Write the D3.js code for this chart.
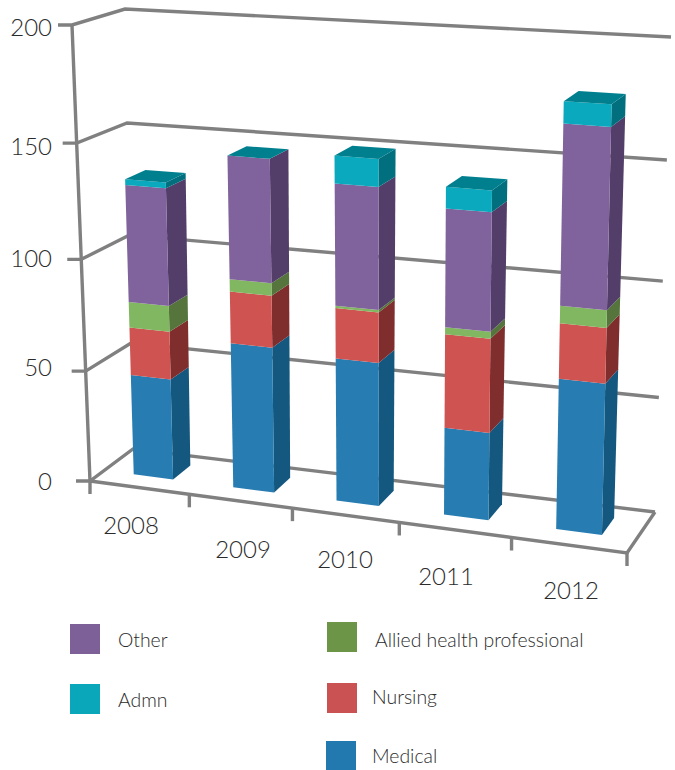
<!DOCTYPE html>
<html>
<head>
<meta charset="utf-8">
<script src="https://cdn.jsdelivr.net/npm/d3@7"></script>
<style>
  html, body { margin: 0; padding: 0; background: #fff; }
  text { font-family: Lato, "Open Sans", sans-serif; font-weight: 300; fill: #2b2b2b; }
</style>
</head>
<body>
<div id="chart"></div>
<script>
var years = ['2008', '2009', '2010', '2011', '2012'];
var yTicks = [0, 50, 100, 150, 200];

// stack order, bottom to top
var medical = [45.5, 64.7, 63, 38, 64.5];
var nursing = [21.5, 23, 22, 40.5, 23.5];
var allied = [11.5, 5.5, 1, 3, 7.5];
var other = [51.5, 53, 52, 49.8, 74];
var admn = [2.5, 0, 11.7, 9, 9];

var legendNames = ['Other', 'Admn', 'Allied health professional', 'Nursing', 'Medical'];

var config = {
    w: 675,
    h: 770,
    grid: '#808080',
    // corners of the 3d box on the page
    box: {
        flb: [90, 481], frb: [627, 553], blb: [133, 449], brb: [655, 512],
        flt: [72, 25], frt: [638, 60], blt: [125, 9], brt: [671, 37]
    },
    barFrom: 0.3, barTo: 0.7,
    zFront: 0.33, zBack: 0.75,
    colors: {
        Medical: { front: '#277cb2', side: '#14577f', top: '#14577f' },
        Nursing: { front: '#cf5451', side: '#802d2d', top: '#802d2d' },
        Allied: { front: '#82b762', side: '#55753c', top: '#55753c' },
        Other: { front: '#80639c', side: '#523e69', top: '#523e69' },
        Admn: { front: '#0aa9bd', side: '#016f7d', top: '#00808f' }
    },
    catLabels: [[131, 534], [243, 558], [345, 568], [446, 585], [571, 599]],
    valLabelY: [490, 376, 267, 155, 36],
    legend: {
        Other: { box: [70, 624], text: [118, 647], color: '#7d6098' },
        Admn: { box: [70, 684], text: [118, 707], color: '#0aa6ba' },
        'Allied health professional': { box: [327, 622], text: [375, 647], color: '#6c9547' },
        Nursing: { box: [327, 683], text: [372, 704], color: '#cb5252' },
        Medical: { box: [326, 741], text: [372, 763], color: '#2279b0' }
    }
};

var c = config;

// axes run faster towards the viewer, so both scales are piecewise
var xScale = d3.scaleLinear().domain([0, 1, 2, 3, 4, 5]).range([0, 0.185, 0.377, 0.576, 0.785, 1]);
var yScale = d3.scaleLinear().domain(yTicks).range([0, 0.241, 0.486, 0.741, 1]);

function mix(a, b, t) {
    return [a[0] + (b[0] - a[0]) * t, a[1] + (b[1] - a[1]) * t];
}

// category position, value, depth (0 front, 1 back) -> page point
function project(x, val, z) {
    var u = xScale(x), v = yScale(val), b = c.box;
    var bottom = mix(mix(b.flb, b.frb, u), mix(b.blb, b.brb, u), z);
    var top = mix(mix(b.flt, b.frt, u), mix(b.blt, b.brt, u), z);
    return mix(bottom, top, v);
}

var svg = d3.select('#chart').append('svg')
    .attr('width', c.w)
    .attr('height', c.h)
    .style('display', 'block');

var line = d3.line();
var g = svg.append('g');

// back wall and left wall lines
yTicks.forEach(function(t, i) {
    var p0 = project(0, t, 0);
    g.append('path')
        .attr('d', line([[p0[0] - 14, p0[1]], p0, project(0, t, 1), project(5, t, 1)]))
        .attr('fill', 'none')
        .attr('stroke', c.grid)
        .attr('stroke-width', 3.4);
    g.append('text')
        .text(t)
        .attr('x', 52)
        .attr('y', c.valLabelY[i])
        .attr('text-anchor', 'end')
        .style('font-size', '24px');
});

// vertical axis
g.append('path')
    .attr('d', line([project(0, 0, 0), project(0, 200, 0)]))
    .attr('fill', 'none')
    .attr('stroke', c.grid)
    .attr('stroke-width', 3.4);

// floor front edge and right edge
g.append('path')
    .attr('d', line([project(0, 0, 0), project(5, 0, 0), project(5, 0, 1)]))
    .attr('fill', 'none')
    .attr('stroke', c.grid)
    .attr('stroke-width', 3.4);

d3.range(6).forEach(function(i) {
    var p = project(i, 0, 0);
    g.append('path')
        .attr('d', line([p, [p[0], p[1] + 13]]))
        .attr('stroke', c.grid)
        .attr('stroke-width', 3.4);
});

years.forEach(function(year, i) {
    g.append('text')
        .text(year)
        .attr('x', c.catLabels[i][0])
        .attr('y', c.catLabels[i][1])
        .attr('text-anchor', 'middle')
        .style('font-size', '24px');
});

// bars
var rows = years.map(function(year, i) {
    return { Medical: medical[i], Nursing: nursing[i], Allied: allied[i], Other: other[i], Admn: admn[i] };
});
var layers = d3.stack().keys(['Medical', 'Nursing', 'Allied', 'Other', 'Admn'])(rows);

years.forEach(function(year, i) {
    var x0 = i + c.barFrom, x1 = i + c.barTo;
    var bar = g.append('g').attr('class', 'bar' + year);

    layers.forEach(function(layer) {
        var d = layer[i], col = c.colors[layer.key];
        if (d[1] - d[0] <= 0) return;

        bar.append('path')
            .attr('d', line([project(x1, d[0], c.zFront), project(x1, d[0], c.zBack),
                project(x1, d[1], c.zBack), project(x1, d[1], c.zFront)]) + 'Z')
            .attr('fill', col.side);
        bar.append('path')
            .attr('d', line([project(x0, d[0], c.zFront), project(x1, d[0], c.zFront),
                project(x1, d[1], c.zFront), project(x0, d[1], c.zFront)]) + 'Z')
            .attr('fill', col.front);
    });

    // lid of the stack is always the top series colour
    var total = layers[layers.length - 1][i][1];
    bar.append('path')
        .attr('d', line([project(x0, total, c.zFront), project(x1, total, c.zFront),
            project(x1, total, c.zBack), project(x0, total, c.zBack)]) + 'Z')
        .attr('fill', c.colors.Admn.top);
});

// legend
legendNames.forEach(function(name) {
    var l = c.legend[name];
    svg.append('rect')
        .attr('x', l.box[0])
        .attr('y', l.box[1])
        .attr('width', 30)
        .attr('height', 30)
        .attr('fill', l.color);
    svg.append('text')
        .text(name)
        .attr('x', l.text[0])
        .attr('y', l.text[1])
        .style('font-size', '19.4px');
});
</script>
</body>
</html>
